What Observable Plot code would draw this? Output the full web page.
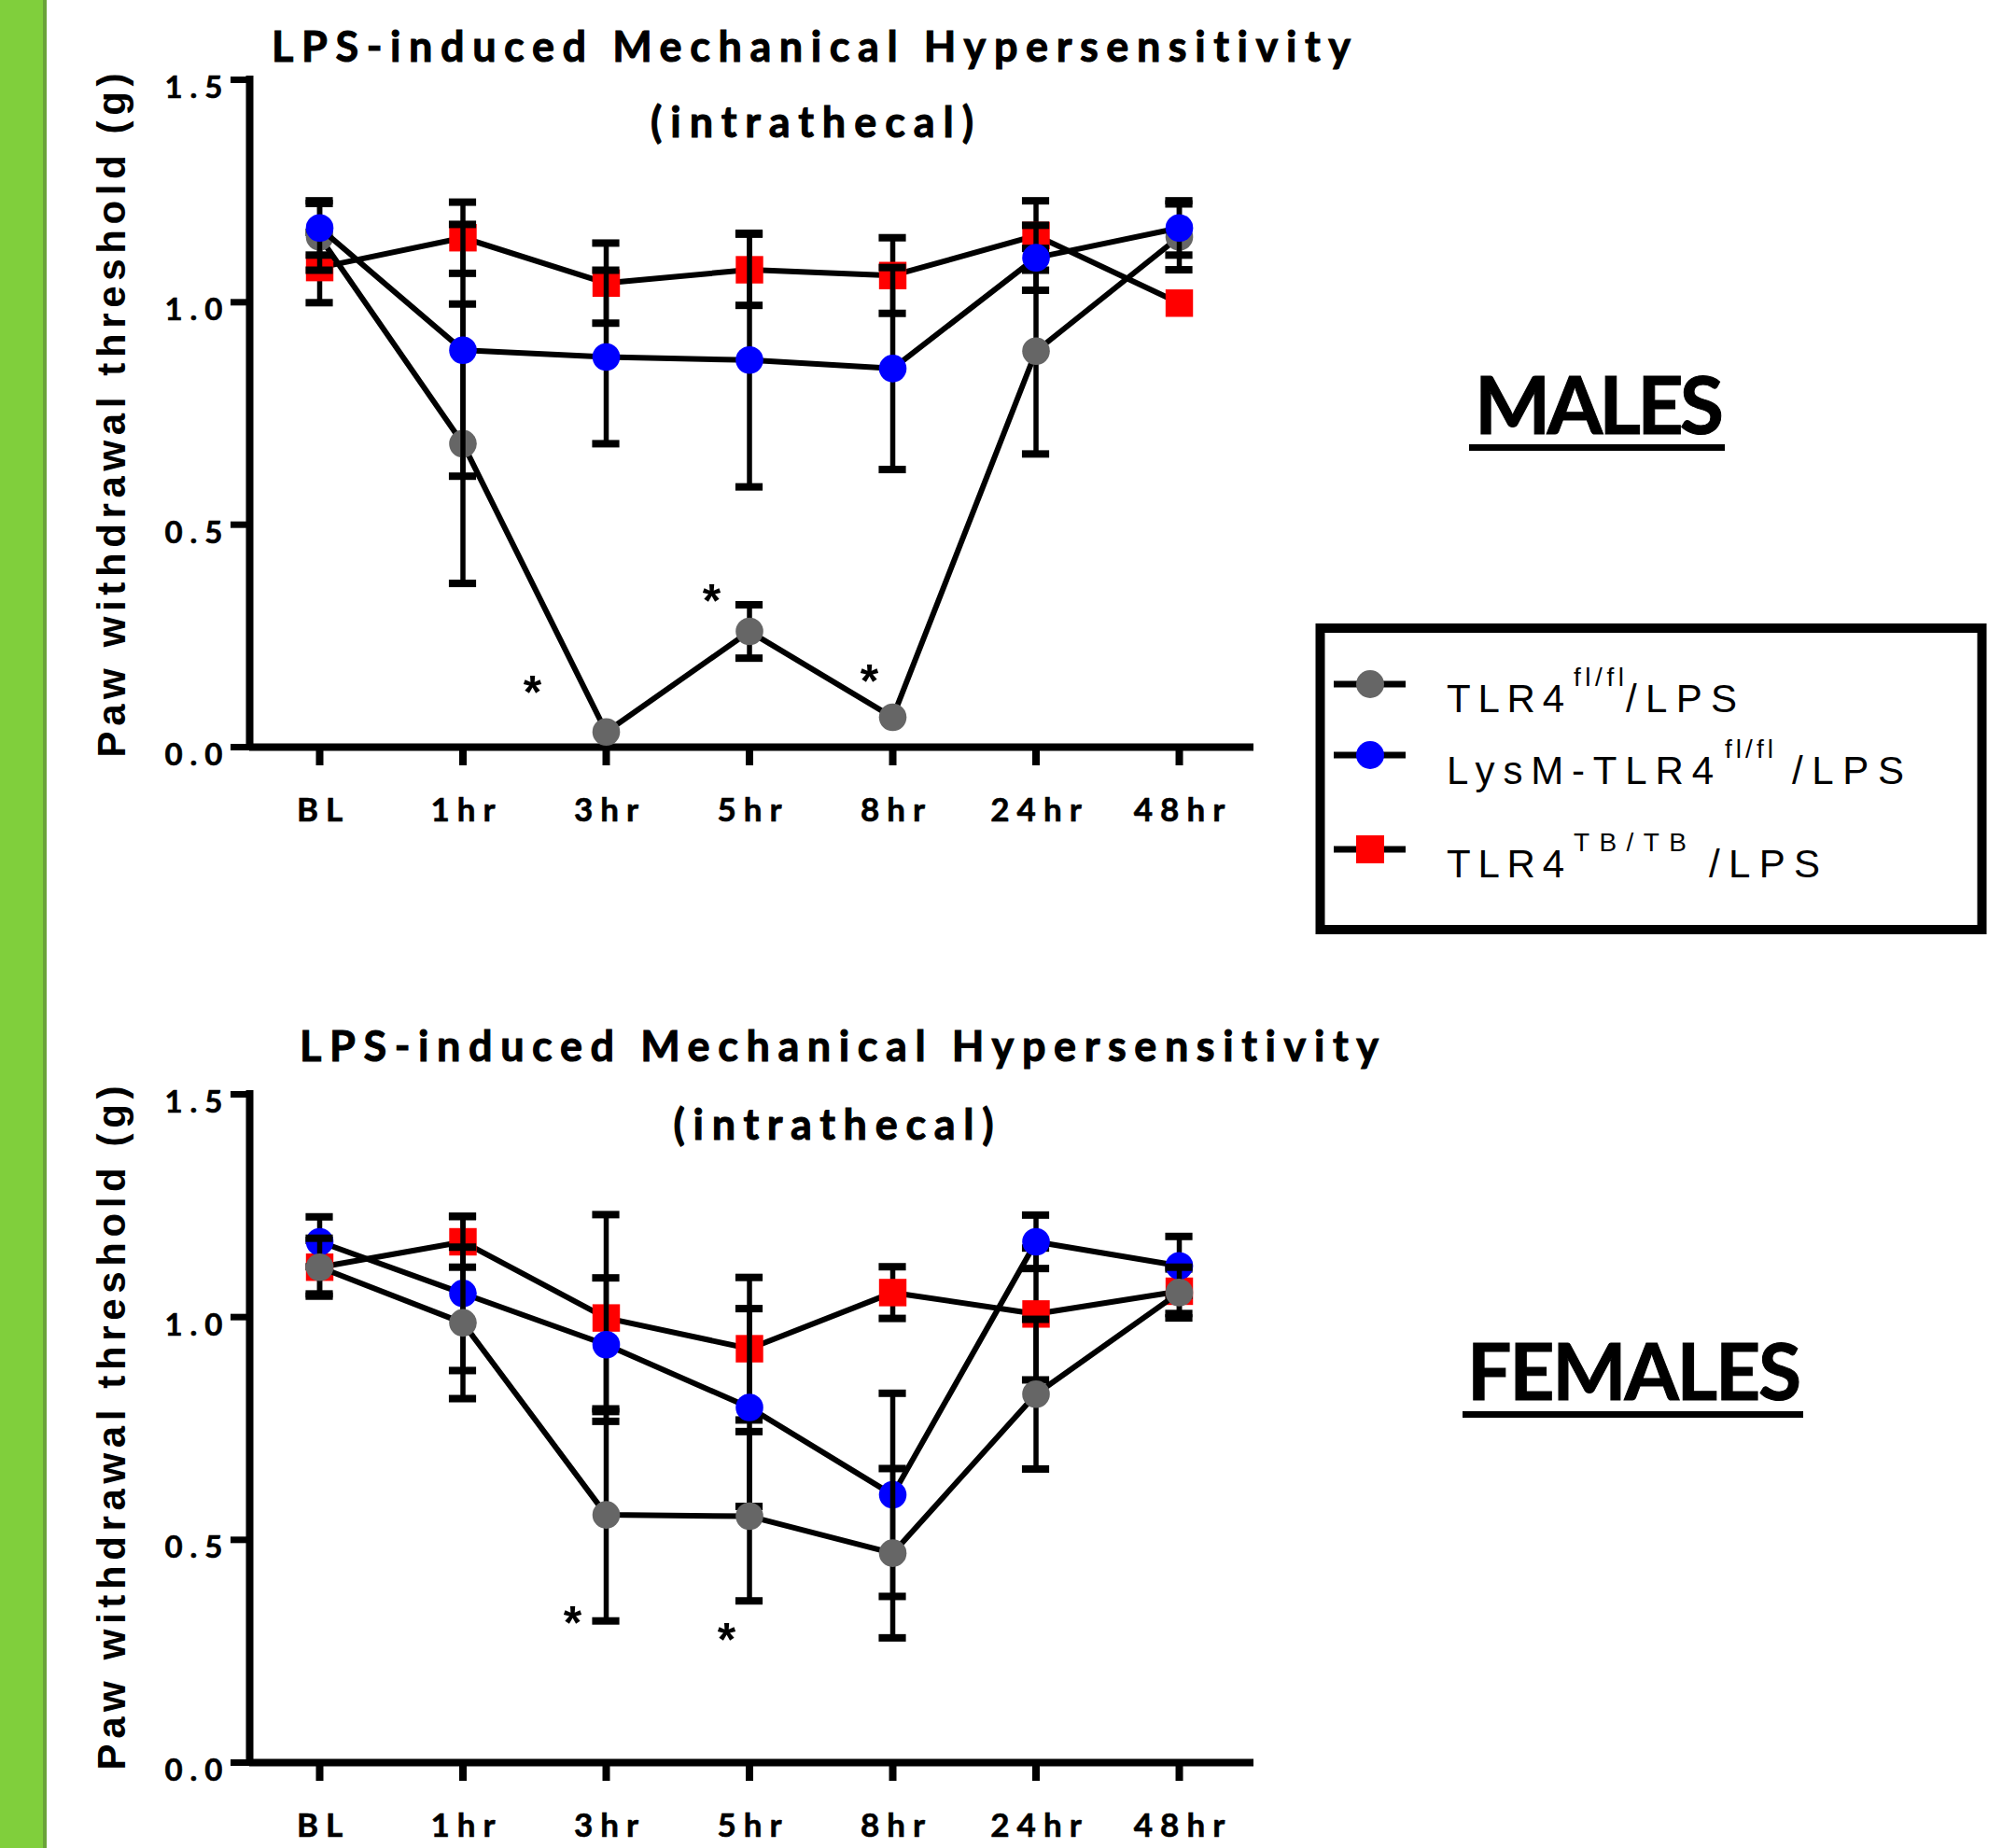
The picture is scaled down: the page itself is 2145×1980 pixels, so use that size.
<!DOCTYPE html>
<html>
<head>
<meta charset="utf-8">
<script src="https://cdn.jsdelivr.net/npm/d3@7"></script>
<script src="https://cdn.jsdelivr.net/npm/@observablehq/plot@0.6"></script>
<style>
  body { margin: 0; background: #fff; }
  #page { position: relative; width: 2145px; height: 1980px; background: #fff; overflow: hidden; font-family: Lato, sans-serif; }
  #greenbar { position: absolute; left: 0; top: 0; width: 46px; height: 1980px; background: #80cf3c; border-right: 4px solid #6aa339; }
  .panel { position: absolute; left: 0; }
  #overlay { position: absolute; left: 0; top: 0; pointer-events: none; }
  svg text { font-variant-ligatures: none; }
</style>
</head>
<body>
<div id="page">
  <div id="greenbar"></div>
  <div id="top" class="panel" style="top:0px"></div>
  <div id="bottom" class="panel" style="top:1080px"></div>
</div>
<script>
// ---------- data ----------
const timepoints = ["BL", "1hr", "3hr", "5hr", "8hr", "24hr", "48hr"];
const yTicks = [0, 0.5, 1.0, 1.5];
const yLabel = "Paw withdrawal threshold (g)";
const titleLine1 = "LPS-induced Mechanical Hypersensitivity";
const titleLine2 = "(intrathecal)";
const seriesColors = ["#666666", "#0000ff", "#ff0000"];
const seriesSymbols = ["circle", "circle", "square"];

// Males
const malesWT      = [1.147, 0.682, 0.034, 0.260, 0.067, 0.890, 1.147];
const malesWTsem   = [0.075, 0.314, 0,     0.060, 0,     0.231, 0.074];
const malesLysM    = [1.167, 0.892, 0.877, 0.870, 0.851, 1.100, 1.167];
const malesLysMsem = [0.061, 0.283, 0.195, 0.285, 0.227, 0.073, 0.061];
const malesTB      = [1.078, 1.145, 1.043, 1.073, 1.060, 1.150, 0.998];
const malesTBsem   = [0.079, 0.080, 0.090, 0.080, 0.085, 0.078, 0];
const malesStarX   = [1.485, 2.736, 3.837];
const malesStarY   = [0.146, 0.352, 0.172];

// Females
const femalesWT      = [1.112, 0.987, 0.556, 0.553, 0.470, 0.827, 1.055];
const femalesWTsem   = [0.065, 0.170, 0.238, 0.190, 0.190, 0.168, 0.057];
const femalesLysM    = [1.169, 1.053, 0.938, 0.797, 0.601, 1.169, 1.115];
const femalesLysMsem = [0.056, 0.173, 0.150, 0.222, 0.228, 0.060, 0.066];
const femalesTB      = [1.112, 1.169, 0.998, 0.929, 1.055, 1.007, 1.058];
const femalesTBsem   = [0.060, 0.057, 0.232, 0.160, 0.058, 0.148, 0.050];
const femalesStarX   = [1.765, 2.840];
const femalesStarY   = [0.336, 0.298];

// ---------- chart ----------
const xDomain = [-0.4886, 6.521];
const capHalf = 0.095;

function makePanel(cfg) {
  const sets = [
    {v: cfg.wt, s: cfg.wtSem},
    {v: cfg.lysm, s: cfg.lysmSem},
    {v: cfg.tb, s: cfg.tbSem}
  ];
  const marks = [
    Plot.axisY({ticks: yTicks, tickFormat: d3.format(".1f"), tickSize: 20, tickPadding: 9,
      strokeWidth: 7, fontSize: 33, fontWeight: "bold", fontFamily: "Lato", label: null}),
    Plot.axisX({ticks: d3.range(timepoints.length), tickFormat: i => timepoints[i], tickSize: 20,
      tickPadding: 35, strokeWidth: 8, fontSize: 35, fontWeight: "bold", fontFamily: "Lato", label: null}),
    Plot.ruleY([0], {x1: xDomain[0], x2: xDomain[1], strokeWidth: 8, stroke: "black"}),
    Plot.ruleX([xDomain[0]], {y1: 0, y2: 1.5, strokeWidth: 8, stroke: "black", strokeLinecap: "square"})
  ];
  for (const k of cfg.order) {
    const set = sets[k];
    const rows = timepoints.map((t, i) => ({x: i, y: set.v[i], sem: set.s[i]}));
    const bars = rows.filter(d => d.sem > 0);
    const caps = bars.flatMap(d => [
      {x1: d.x - capHalf, x2: d.x + capHalf, y: d.y - d.sem},
      {x1: d.x - capHalf, x2: d.x + capHalf, y: d.y + d.sem}
    ]);
    marks.push(Plot.line(rows, {x: "x", y: "y", stroke: "black", strokeWidth: 6}));
    marks.push(Plot.ruleX(bars, {x: "x", y1: d => d.y - d.sem, y2: d => d.y + d.sem, stroke: "black", strokeWidth: 5.5}));
    marks.push(Plot.ruleY(caps, {y: "y", x1: "x1", x2: "x2", stroke: "black", strokeWidth: 8}));
    marks.push(Plot.dot(rows, {x: "x", y: "y", symbol: seriesSymbols[k],
      r: seriesSymbols[k] === "square" ? 16.6 : 14.8, fill: seriesColors[k], stroke: "none"}));
  }
  marks.push(Plot.text(cfg.starX.map((x, i) => ({x, y: cfg.starY[i]})), {x: "x", y: "y", text: () => "*",
    fontSize: 50, fontWeight: "bold", fontFamily: "Liberation Sans", lineAnchor: "bottom", dy: 28}));

  const svg = Plot.plot({
    width: 1400, height: cfg.height,
    marginLeft: 267, marginRight: 57, marginTop: cfg.marginTop, marginBottom: cfg.marginBottom,
    x: {type: "linear", domain: xDomain},
    y: {domain: [0, 1.5]},
    style: {background: "transparent", color: "black", fontFamily: "Lato", overflow: "visible"},
    marks
  });
  svg.querySelectorAll('g[aria-label="y-axis tick label"] text').forEach(t => {
    t.setAttribute("y", "19.5"); t.style.letterSpacing = "8px"; t.setAttribute("dx", "8");
    t.setAttribute("stroke", "black"); t.setAttribute("stroke-width", "0.6");
  });
  svg.querySelectorAll('g[aria-label="x-axis tick label"] text').forEach(t => {
    t.style.letterSpacing = "8px"; t.setAttribute("dx", "4");
    t.setAttribute("stroke", "black"); t.setAttribute("stroke-width", "0.6");
  });
  return svg;
}

document.getElementById("top").appendChild(makePanel({
  wt: malesWT, wtSem: malesWTsem, lysm: malesLysM, lysmSem: malesLysMsem, tb: malesTB, tbSem: malesTBsem,
  starX: malesStarX, starY: malesStarY, order: [2, 0, 1], height: 920, marginTop: 85, marginBottom: 120
}));
document.getElementById("bottom").appendChild(makePanel({
  wt: femalesWT, wtSem: femalesWTsem, lysm: femalesLysM, lysmSem: femalesLysMsem, tb: femalesTB, tbSem: femalesTBsem,
  starX: femalesStarX, starY: femalesStarY, order: [2, 1, 0], height: 900, marginTop: 92, marginBottom: 92
}));

// ---------- overlay: titles, axis titles, legend, group labels ----------
const ov = d3.select("#page").append("svg").attr("id", "overlay").attr("width", 2145).attr("height", 1980);
function txt(s, x, y, o) {
  const t = ov.append("text").attr("x", x).attr("y", y).text(s)
    .attr("font-family", o.family || "Lato").attr("font-size", o.size).attr("font-weight", o.weight || "normal")
    .attr("text-anchor", o.anchor || "start").attr("fill", "black");
  if (o.len) t.attr("textLength", o.len).attr("lengthAdjust", "spacing");
  if (o.heavy) t.attr("stroke", "black").attr("stroke-width", o.heavy);
  if (o.rotate) t.attr("x", 0).attr("y", 0).attr("transform", `translate(${x},${y}) rotate(${o.rotate})`);
  return t;
}
// titles
txt(titleLine1, 869, 66, {size: 45, weight: "bold", anchor: "middle", len: 1156, heavy: 1});
txt(titleLine2, 870, 147, {size: 45, weight: "bold", anchor: "middle", len: 346, heavy: 1});
txt(titleLine1, 899, 1137, {size: 45, weight: "bold", anchor: "middle", len: 1156, heavy: 1});
txt(titleLine2, 893, 1221, {size: 45, weight: "bold", anchor: "middle", len: 343, heavy: 1});

// y-axis titles
txt(yLabel, 134, 445, {size: 42, weight: "bold", family: "Liberation Sans", anchor: "middle", len: 733, rotate: -90});
txt(yLabel, 134, 1530, {size: 42, weight: "bold", family: "Liberation Sans", anchor: "middle", len: 733, rotate: -90});

// group labels
txt("MALES", 1580, 465, {size: 86, weight: "bold", len: 267, heavy: 1});
ov.append("rect").attr("x", 1574).attr("y", 476).attr("width", 274).attr("height", 7).attr("fill", "black");
txt("FEMALES", 1572, 1500, {size: 84, weight: "bold", len: 358, heavy: 1});
ov.append("rect").attr("x", 1567).attr("y", 1512).attr("width", 365).attr("height", 7).attr("fill", "black");

// legend
ov.append("rect").attr("x", 1414.5).attr("y", 673).attr("width", 709).attr("height", 323)
  .attr("fill", "white").attr("stroke", "black").attr("stroke-width", 10);
const legendRows = [
  {y: 733, base: 763, k: 0, parts: [["TLR4", 1550, 126], ["fl/fl", 1686, 54, true], ["/LPS", 1742, 119]]},
  {y: 809, base: 840, k: 1, parts: [["LysM-TLR4", 1550, 286], ["fl/fl", 1848, 52, true], ["/LPS", 1920, 120]]},
  {y: 910, base: 940, k: 2, parts: [["TLR4", 1550, 126], ["TB/TB", 1686, 121, true], ["/LPS", 1831, 119]]}
];
for (const r of legendRows) {
  ov.append("line").attr("x1", 1429).attr("x2", 1506).attr("y1", r.y).attr("y2", r.y)
    .attr("stroke", "black").attr("stroke-width", 7);
  if (seriesSymbols[r.k] === "square") {
    ov.append("rect").attr("x", 1453).attr("y", r.y - 15).attr("width", 30).attr("height", 30).attr("fill", seriesColors[r.k]);
  } else {
    ov.append("circle").attr("cx", 1468).attr("cy", r.y).attr("r", 15).attr("fill", seriesColors[r.k]);
  }
  for (const [s, x, len, sup] of r.parts) {
    txt(s, x, sup ? r.base - 28 : r.base, {size: sup ? 28 : 42, family: "Liberation Sans", len});
  }
}
</script>
</body>
</html>
